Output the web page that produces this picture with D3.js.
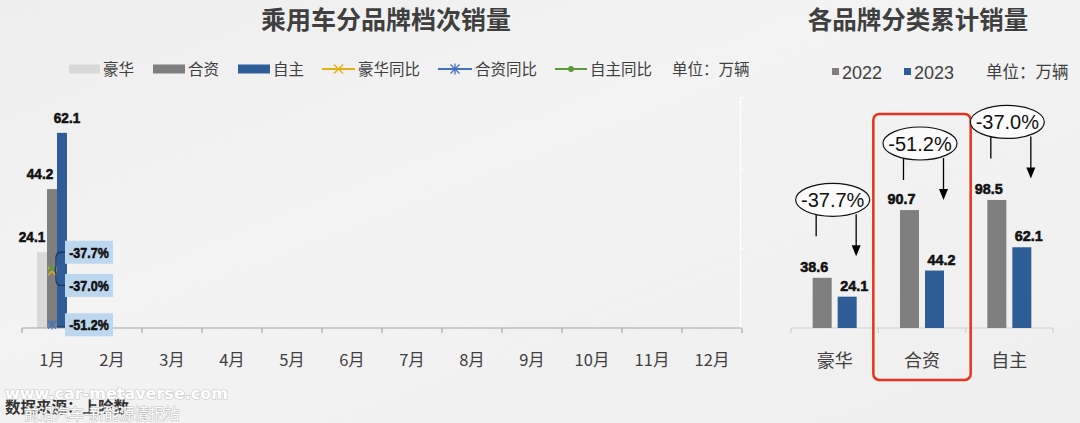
<!DOCTYPE html>
<html><head><meta charset="utf-8">
<script src="https://cdn.jsdelivr.net/npm/d3@7"></script>
<style>
html,body{margin:0;padding:0;background:#f0f0f0;}
svg{display:block;}
</style></head>
<body>
<svg id="c" width="1080" height="423"></svg>
<script>
// ---------- data ----------
const months = ["1月","2月","3月","4月","5月","6月","7月","8月","9月","10月","11月","12月"];
const seriesNames = ["豪华","合资","自主"];
const luxury   = [24.1];
const joint    = [44.2];
const domestic = [62.1];
const luxuryYoY   = [-37.7];
const jointYoY    = [-51.2];
const domesticYoY = [-37.0];
const yoyNames = ["豪华同比","合资同比","自主同比"];

const cumCategories = ["豪华","合资","自主"];
const cum2022 = [38.6, 90.7, 98.5];
const cum2023 = [24.1, 44.2, 62.1];
const cumChange = [-37.7, -51.2, -37.0];
const cumYears = ["2022","2023"];
const highlighted = "合资";

// ---------- styles ----------
const C = {lux:"#d9d9d9", joint:"#7f7f7f", dom:"#2f5d98", y1:"#e8b00e", y2:"#4472c4", y3:"#5b9b3a", text:"#404040"};
const CJK = "'Noto Sans CJK SC','Noto Sans',sans-serif";
const NARROW = "'Liberation Sans',Arial,sans-serif";
const svg = d3.select("#c");

// narrow heavy label helper (condensed look)
function narrowLabel(sel, perChar){
  sel.attr("font-family",NARROW).attr("font-weight","bold").attr("font-size",15.5).attr("fill","#111")
     .attr("stroke","#111").attr("stroke-width",0.6)
     .attr("lengthAdjust","spacingAndGlyphs")
     .attr("textLength",function(){ return this.textContent.length*perChar; });
}

// subtle background
const defs = svg.append("defs");
const g0 = defs.append("linearGradient").attr("id","bg").attr("x1","0").attr("y1","0").attr("x2","1").attr("y2","1");
g0.append("stop").attr("offset","0").attr("stop-color","#eeeeee");
g0.append("stop").attr("offset","0.4").attr("stop-color","#f3f3f3");
g0.append("stop").attr("offset","1").attr("stop-color","#efefef");
svg.append("rect").attr("width",1080).attr("height",423).attr("fill","url(#bg)");

// ================= LEFT CHART =================
const L = {left:22, right:742, top:97, base:328};
const x0 = d3.scaleBand().domain(months).range([L.left, L.right]).paddingInner(0).paddingOuter(0);
const x1 = d3.scaleBand().domain(seriesNames).range([0, x0.bandwidth()]).paddingInner(0).paddingOuter(1.5);
const yL = d3.scaleLinear().domain([0, 73.5]).range([L.base, L.top]);
const yP = d3.scaleLinear().domain([-52, 6.2]).range([L.base, L.top]);

svg.append("text").attr("x",386).attr("y",29).attr("text-anchor","middle")
  .attr("font-family",CJK).attr("font-weight","bold").attr("font-size",25).attr("fill","#3f3f3f")
  .text("乘用车分品牌档次销量");

// right (percent) axis - faint white
const axR = svg.append("g").attr("transform",`translate(${L.right-2},0)`)
  .call(d3.axisRight(yP).tickValues([-52,-32,-12,6.2]).tickSize(4).tickFormat(""));
axR.selectAll("path,line").attr("stroke","#ffffff").attr("stroke-width",1.2);

const barSeries = [
  {name:"豪华", vals:luxury, color:C.lux, dx:-10},
  {name:"合资", vals:joint, color:C.joint, dx:-12},
  {name:"自主", vals:domestic, color:C.dom, dx:5}
];
barSeries.forEach(s=>{
  const g = svg.append("g");
  g.selectAll("rect").data(s.vals).join("rect")
    .attr("x",(d,i)=>x0(months[i])+x1(s.name)).attr("width",x1.bandwidth())
    .attr("y",d=>yL(d)).attr("height",d=>L.base-yL(d)).attr("fill",s.color);
  g.selectAll("text").data(s.vals).join("text")
    .attr("x",(d,i)=>x0(months[i])+x1(s.name)+x1.bandwidth()/2+s.dx)
    .attr("y",d=>yL(d)-10).attr("text-anchor","middle")
    .text(d=>d.toFixed(1)).call(narrowLabel, 6.6);
});

// baseline axis
const axB = svg.append("g").attr("transform",`translate(0,${L.base})`)
  .call(d3.axisBottom(x0).tickSize(0).tickFormat(""));
axB.select("path").attr("stroke","#a6a6a6").attr("stroke-width",1.2).attr("d",`M${L.left},0H${L.right}`);
svg.append("g").selectAll("line").data(d3.range(months.length+1)).join("line")
  .attr("x1",i=>L.left+i*x0.step()).attr("x2",i=>L.left+i*x0.step())
  .attr("y1",L.base).attr("y2",L.base+5).attr("stroke","#a6a6a6").attr("stroke-width",1.2);
svg.append("g").selectAll("text").data(months).join("text")
  .attr("x",d=>x0(d)+x0.bandwidth()/2).attr("y",366).attr("text-anchor","middle")
  .attr("font-family",CJK).attr("font-size",16.5).attr("fill",C.text).text(d=>d);

// YoY markers + labels
const yoySeries = [
  {name:"豪华同比", vals:luxuryYoY, color:C.y1, shape:"x", box:-19},
  {name:"合资同比", vals:jointYoY, color:C.y2, shape:"star", box:0},
  {name:"自主同比", vals:domesticYoY, color:C.y3, shape:"dot", box:17}
];
function drawMarker(g, shape, cx, cy, color, s){
  if(shape==="dot"){ g.append("circle").attr("cx",cx).attr("cy",cy).attr("r",s*0.65).attr("fill",color); }
  else if(shape==="x"){
    g.append("path").attr("d",`M${cx-s},${cy-s}L${cx+s},${cy+s}M${cx-s},${cy+s}L${cx+s},${cy-s}`).attr("stroke",color).attr("stroke-width",1.4);
  } else {
    g.append("path").attr("d",`M${cx-s},${cy-s}L${cx+s},${cy+s}M${cx-s},${cy+s}L${cx+s},${cy-s}M${cx},${cy-s*1.2}L${cx},${cy+s*1.2}`).attr("stroke",color).attr("stroke-width",1.3);
  }
}
const boxW = 48, boxH = 23, boxX = x0(months[0]) + x0.bandwidth()/2 + 13;
const mg = svg.append("g");
yoySeries.forEach(s=>{
  s.vals.forEach((v,i)=>{
    const cx = x0(months[i])+x0.bandwidth()/2, cy = yP(v);
    drawMarker(mg, s.shape, cx, cy, s.color, 4);
  });
});
// leader lines
const p1 = yP(luxuryYoY[0]), p3 = yP(domesticYoY[0]), p2 = yP(jointYoY[0]);
const pc = x0(months[0]) + x0.bandwidth()/2;
const bc1 = p1 + yoySeries[0].box, bc3 = p3 + yoySeries[2].box;
svg.append("path").attr("d",`M${boxX},${bc1}L${boxX-4},${bc1}Q${boxX-9},${bc1} ${boxX-9},${bc1+6}L${boxX-9},${(p1+p3)/2-4}L${pc+3},${(p1+p3)/2}L${boxX-9},${(p1+p3)/2+4}L${boxX-9},${bc3-6}Q${boxX-9},${bc3} ${boxX-4},${bc3}L${boxX},${bc3}`)
  .attr("fill","none").attr("stroke","#1f3864").attr("stroke-width",1.3);
svg.append("path").attr("d",`M${pc+5},${p2+2}L${boxX},${p2+2}`).attr("stroke","#1f3864").attr("stroke-width",1.2);
yoySeries.forEach(s=>{
  s.vals.forEach(v=>{
    const cy = yP(v) + s.box;
    svg.append("rect").attr("x",boxX).attr("y",cy-boxH/2).attr("width",boxW).attr("height",boxH).attr("fill","#bdd7ee");
    svg.append("text").attr("x",boxX+boxW/2).attr("y",cy+5.5).attr("text-anchor","middle")
      .text(v.toFixed(1)+"%").call(narrowLabel, 6.6);
  });
});

// left legend
const lg = svg.append("g").attr("font-family",CJK).attr("font-size",15.5).attr("fill",C.text);
const legItems = [
  {type:"rect", color:C.lux, label:"豪华", x:69, w:31},
  {type:"rect", color:C.joint, label:"合资", x:153, w:32},
  {type:"rect", color:C.dom, label:"自主", x:238, w:32},
  {type:"line", color:C.y1, shape:"x", label:"豪华同比", x:322, w:33},
  {type:"line", color:C.y2, shape:"star", label:"合资同比", x:438, w:34},
  {type:"line", color:C.y3, shape:"dot", label:"自主同比", x:555, w:32}
];
const legY = 69;
legItems.forEach(it=>{
  if(it.type==="rect") lg.append("rect").attr("x",it.x).attr("y",legY-4.5).attr("width",it.w).attr("height",9).attr("fill",it.color);
  else {
    lg.append("line").attr("x1",it.x).attr("x2",it.x+it.w).attr("y1",legY).attr("y2",legY).attr("stroke",it.color).attr("stroke-width",2);
    drawMarker(lg, it.shape, it.x+it.w/2, legY, it.color, 4.5);
  }
  lg.append("text").attr("x",it.x+it.w+3).attr("y",legY+5.5).text(it.label);
});
lg.append("text").attr("x",672).attr("y",legY+5.5).text("单位：万辆");

// footer
svg.append("text").attr("x",5).attr("y",413).attr("font-family",CJK).attr("font-weight","bold").attr("font-size",15.5).attr("fill","#333").text("数据来源：上险数");
svg.append("text").attr("x",5).attr("y",399).attr("font-family","'DejaVu Sans',sans-serif").attr("font-weight","bold").attr("font-size",16)
  .attr("fill","#ffffff").attr("stroke","#c8c8c8").attr("stroke-width",1.2).attr("paint-order","stroke").text("www.car-metaverse.com");
svg.append("text").attr("x",24).attr("y",419).attr("font-family",CJK).attr("font-size",15).attr("fill","#ffffff")
  .attr("stroke","#bdbdbd").attr("stroke-width",1).attr("paint-order","stroke").text("前沿汽车-新能源情报站");

// ================= RIGHT CHART =================
const R = {left:791, right:1053, top:198, base:328};
const xr = d3.scaleBand().domain(cumCategories).range([R.left, R.right]).padding(0);
const xr1 = d3.scaleBand().domain(cumYears).range([0, xr.bandwidth()]).paddingInner(0.24).paddingOuter(0.866);
const yr = d3.scaleLinear().domain([0,100]).range([R.base, R.top]);

svg.append("text").attr("x",918).attr("y",29).attr("text-anchor","middle")
  .attr("font-family",CJK).attr("font-weight","bold").attr("font-size",24.5).attr("fill","#3f3f3f")
  .text("各品牌分类累计销量");

// legend
const rg = svg.append("g").attr("font-family",CJK).attr("fill",C.text);
[{c:C.joint,t:"2022",x:832},{c:C.dom,t:"2023",x:904}].forEach(it=>{
  rg.append("rect").attr("x",it.x).attr("y",68).attr("width",7).attr("height",7).attr("fill",it.c);
  rg.append("text").attr("x",it.x+10).attr("y",78.5).attr("font-family","'Liberation Sans',Arial,sans-serif").attr("font-size",18).text(it.t);
});
rg.append("text").attr("x",986).attr("y",78).attr("font-size",16.5).text("单位：万辆");

// axis
svg.append("path").attr("d",`M${R.left},${R.base}H${R.right}`).attr("stroke","#d0d0d0").attr("stroke-width",1.2);
svg.append("g").selectAll("line").data(d3.range(cumCategories.length+1)).join("line")
  .attr("x1",i=>R.left+i*xr.step()).attr("x2",i=>R.left+i*xr.step())
  .attr("y1",R.base).attr("y2",R.base+5).attr("stroke","#d0d0d0").attr("stroke-width",1.2);
svg.append("g").selectAll("text").data(cumCategories).join("text")
  .attr("x",d=>xr(d)+xr.bandwidth()/2).attr("y",367).attr("text-anchor","middle")
  .attr("font-family",CJK).attr("font-size",18).attr("fill",C.text).text(d=>d);

const cumSeries = [{year:"2022", vals:cum2022, color:C.joint, dx:-8},{year:"2023", vals:cum2023, color:C.dom, dx:7}];
cumSeries.forEach(s=>{
  const g = svg.append("g");
  g.selectAll("rect").data(s.vals).join("rect")
    .attr("x",(d,i)=>xr(cumCategories[i])+xr1(s.year)).attr("width",xr1.bandwidth())
    .attr("y",d=>yr(d)).attr("height",d=>R.base-yr(d)).attr("fill",s.color);
  g.selectAll("text").data(s.vals).join("text")
    .attr("x",(d,i)=>xr(cumCategories[i])+xr1(s.year)+xr1.bandwidth()/2+s.dx)
    .attr("y",d=>yr(d)-6).attr("text-anchor","middle")
    .text(d=>d.toFixed(1)).call(narrowLabel, 7);
});

// highlight box
const hbTop = 114;
svg.append("rect").attr("x",xr(highlighted)-5).attr("y",hbTop).attr("width",xr.bandwidth()+10).attr("height",380-hbTop)
  .attr("rx",6).attr("fill","none").attr("stroke","#e8321e").attr("stroke-width",2.5);

// change annotations
const ery = 16.5, erx = 37;
cumCategories.forEach((c,i)=>{
  let cy = yr(cum2022[i]) - 78;
  if(c===highlighted) cy = Math.max(cy, hbTop + ery + 13);
  const cx = xr(c) + xr.bandwidth()/2 - 2;
  const gx = xr(c)+xr1("2022")+xr1.bandwidth()/2 - 6;
  const bx = xr(c)+xr1("2023")+xr1.bandwidth()/2 + 9;
  const yb = cy + ery - 2;
  const tip = yb + 42;
  svg.append("line").attr("x1",gx).attr("x2",gx).attr("y1",yb).attr("y2",yb+22).attr("stroke","#000").attr("stroke-width",1.3);
  svg.append("line").attr("x1",bx).attr("x2",bx).attr("y1",yb).attr("y2",tip-8).attr("stroke","#000").attr("stroke-width",1.3);
  svg.append("path").attr("d",`M${bx-4.5},${tip-11}L${bx+4.5},${tip-11}L${bx},${tip}Z`).attr("fill","#000");
  svg.append("ellipse").attr("cx",cx).attr("cy",cy).attr("rx",erx).attr("ry",ery).attr("fill","#fbfbfb").attr("stroke","#111").attr("stroke-width",1.2);
  svg.append("text").attr("x",cx).attr("y",cy+7).attr("text-anchor","middle")
    .attr("font-family","'Liberation Sans',Arial,sans-serif").attr("font-size",20).attr("fill","#111")
    .text(cumChange[i].toFixed(1)+"%");
});
</script>
</body></html>
